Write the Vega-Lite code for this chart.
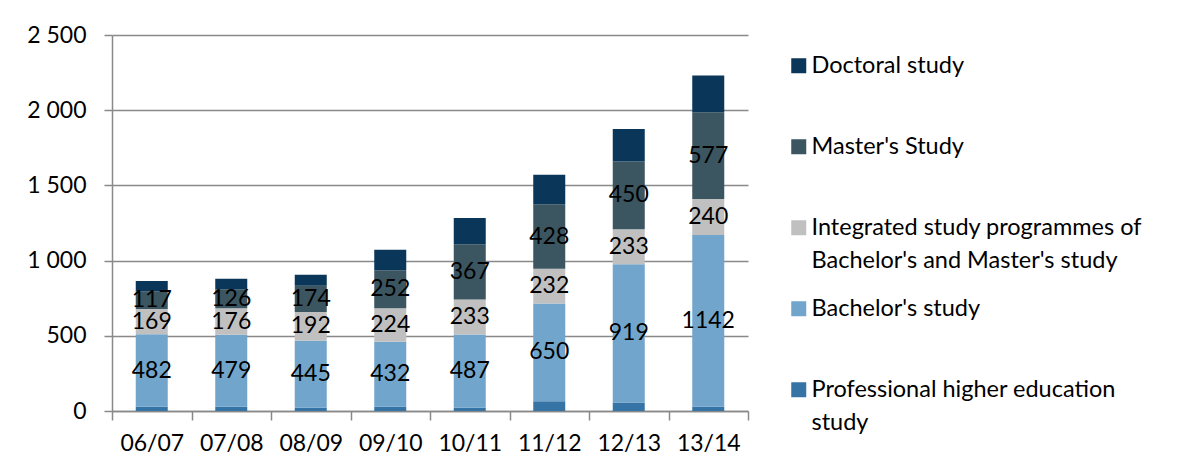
{
  "$schema": "https://vega.github.io/schema/vega-lite/v6.json",
  "width": 636,
  "height": 376,
  "autosize": {"type": "none"},
  "padding": {"left": 112, "top": 35, "right": 438, "bottom": 63},
  "background": "white",
  "config": {"font": "Lato", "view": {"stroke": null}},
  "data": {
    "values": [
      {"year": "06/07", "series": "Professional higher education study", "k": 1, "v": 28},
      {"year": "06/07", "series": "Bachelor's study", "k": 2, "v": 482},
      {"year": "06/07", "series": "Integrated study programmes of Bachelor's and Master's study", "k": 3, "v": 169},
      {"year": "06/07", "series": "Master's Study", "k": 4, "v": 117},
      {"year": "06/07", "series": "Doctoral study", "k": 5, "v": 68},
      {"year": "07/08", "series": "Professional higher education study", "k": 1, "v": 28},
      {"year": "07/08", "series": "Bachelor's study", "k": 2, "v": 479},
      {"year": "07/08", "series": "Integrated study programmes of Bachelor's and Master's study", "k": 3, "v": 176},
      {"year": "07/08", "series": "Master's Study", "k": 4, "v": 126},
      {"year": "07/08", "series": "Doctoral study", "k": 5, "v": 70},
      {"year": "08/09", "series": "Professional higher education study", "k": 1, "v": 22},
      {"year": "08/09", "series": "Bachelor's study", "k": 2, "v": 445},
      {"year": "08/09", "series": "Integrated study programmes of Bachelor's and Master's study", "k": 3, "v": 192},
      {"year": "08/09", "series": "Master's Study", "k": 4, "v": 174},
      {"year": "08/09", "series": "Doctoral study", "k": 5, "v": 73},
      {"year": "09/10", "series": "Professional higher education study", "k": 1, "v": 28},
      {"year": "09/10", "series": "Bachelor's study", "k": 2, "v": 432},
      {"year": "09/10", "series": "Integrated study programmes of Bachelor's and Master's study", "k": 3, "v": 224},
      {"year": "09/10", "series": "Master's Study", "k": 4, "v": 252},
      {"year": "09/10", "series": "Doctoral study", "k": 5, "v": 136},
      {"year": "10/11", "series": "Professional higher education study", "k": 1, "v": 22},
      {"year": "10/11", "series": "Bachelor's study", "k": 2, "v": 487},
      {"year": "10/11", "series": "Integrated study programmes of Bachelor's and Master's study", "k": 3, "v": 233},
      {"year": "10/11", "series": "Master's Study", "k": 4, "v": 367},
      {"year": "10/11", "series": "Doctoral study", "k": 5, "v": 174},
      {"year": "11/12", "series": "Professional higher education study", "k": 1, "v": 64},
      {"year": "11/12", "series": "Bachelor's study", "k": 2, "v": 650},
      {"year": "11/12", "series": "Integrated study programmes of Bachelor's and Master's study", "k": 3, "v": 232},
      {"year": "11/12", "series": "Master's Study", "k": 4, "v": 428},
      {"year": "11/12", "series": "Doctoral study", "k": 5, "v": 197},
      {"year": "12/13", "series": "Professional higher education study", "k": 1, "v": 57},
      {"year": "12/13", "series": "Bachelor's study", "k": 2, "v": 919},
      {"year": "12/13", "series": "Integrated study programmes of Bachelor's and Master's study", "k": 3, "v": 233},
      {"year": "12/13", "series": "Master's Study", "k": 4, "v": 450},
      {"year": "12/13", "series": "Doctoral study", "k": 5, "v": 216},
      {"year": "13/14", "series": "Professional higher education study", "k": 1, "v": 28},
      {"year": "13/14", "series": "Bachelor's study", "k": 2, "v": 1142},
      {"year": "13/14", "series": "Integrated study programmes of Bachelor's and Master's study", "k": 3, "v": 240},
      {"year": "13/14", "series": "Master's Study", "k": 4, "v": 577},
      {"year": "13/14", "series": "Doctoral study", "k": 5, "v": 244}
    ]
  },
  "encoding": {
    "x": {
      "field": "year",
      "type": "ordinal",
      "sort": null,
      "scale": {"paddingInner": 0, "paddingOuter": 0},
      "axis": {
        "title": null,
        "labelAngle": 0,
        "tickBand": "extent",
        "tickSize": 9,
        "tickWidth": 1.5,
        "domainWidth": 1.5,
        "domainColor": "#898989",
        "tickColor": "#898989",
        "labelFontSize": 23,
        "labelColor": "black",
        "labelPadding": 12,
        "grid": false
      }
    }
  },
  "layer": [
    {
      "mark": {"type": "bar", "size": 32},
      "encoding": {
        "y": {
          "field": "v",
          "type": "quantitative",
          "stack": "zero",
          "scale": {"domain": [0, 2500], "nice": false},
          "axis": {
            "title": null,
            "values": [0, 500, 1000, 1500, 2000, 2500],
            "labelExpr": "replace(format(datum.value, ',d'), ',', ' ')",
            "tickSize": 8,
            "tickWidth": 1.5,
            "tickColor": "#898989",
            "domainColor": "#898989",
            "domainWidth": 1.5,
            "grid": true,
            "gridColor": "#898989",
            "gridWidth": 1.5,
            "labelFontSize": 23,
            "labelColor": "black",
            "labelPadding": 18
          }
        },
        "color": {
          "field": "series",
          "type": "nominal",
          "scale": {
            "domain": ["Doctoral study", "Master's Study", "Integrated study programmes of Bachelor's and Master's study", "Bachelor's study", "Professional higher education study"],
            "range": ["#0A3659", "#3B5561", "#C0C0C0", "#72A5CB", "#3674A6"]
          },
          "legend": {
            "title": null,
            "orient": "none",
            "legendX": 675,
            "legendY": 19,
            "padding": 0,
            "gridAlign": "all",
            "symbolType": "square",
            "symbolSize": 225,
            "symbolStrokeWidth": 0,
            "labelFontSize": 23.5,
            "labelColor": "black",
            "labelOffset": 1,
            "labelLimit": 420,
            "rowPadding": 23,
            "labelExpr": "indexof(datum.label, 'Integrated') == 0 ? ['Integrated study programmes of', \"Bachelor's and Master's study\"] : indexof(datum.label, 'Professional') == 0 ? ['Professional higher education', 'study'] : datum.label",
            "encode": {"labels": {"update": {"lineHeight": {"value": 33}}}}
          }
        },
        "order": {"field": "k", "type": "quantitative"}
      }
    },
    {
      "transform": [
        {"stack": "v", "groupby": ["year"], "sort": [{"field": "k", "order": "ascending"}], "as": ["y0", "y1"]},
        {"calculate": "(datum.y0 + datum.y1) / 2", "as": "mid"},
        {"filter": "datum.k >= 2 && datum.k <= 4"}
      ],
      "mark": {"type": "text", "fontSize": 23, "color": "black", "baseline": "middle"},
      "encoding": {
        "y": {"field": "mid", "type": "quantitative"},
        "text": {"field": "v", "type": "quantitative", "format": "d"}
      }
    }
  ]
}
